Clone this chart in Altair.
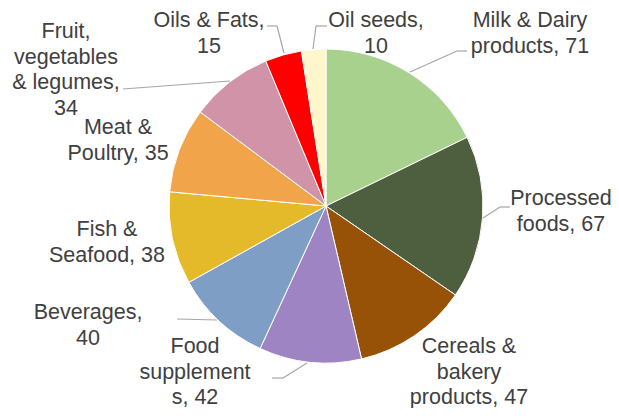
import altair as alt
import pandas as pd

# ---- data ----
categories = [
    "Milk & Dairy products", "Processed foods", "Cereals & bakery products",
    "Food supplements", "Beverages", "Fish & Seafood", "Meat & Poultry",
    "Fruit, vegetables & legumes", "Oils & Fats", "Oil seeds",
]
values = [71, 67, 47, 42, 40, 38, 35, 34, 15, 10]
label_names = [
    "Milk & Dairy\nproducts, ", "Processed\nfoods, ", "Cereals &\nbakery\nproducts, ",
    "Food\nsupplement\ns, ", "Beverages,\n", "Fish &\nSeafood, ", "Meat &\nPoultry, ",
    "Fruit,\nvegetables\n& legumes,\n", "Oils & Fats,\n", "Oil seeds,\n",
]

# ---- style / layout ----
colors = ["#A9D18E", "#4E5F3F", "#975208", "#9E84C2", "#7F9EC5",
          "#E5BA2A", "#F2A44A", "#D093A7", "#FF0000", "#FFF6CC"]
PAGE = 8
cx, cy, R = 326 - PAGE, 206 - PAGE, 157
# (x centre, y of first text line centre) in page pixels
label_pos = [(530, 21), (561, 199), (469, 347), (195, 347), (88, 313),
             (107, 230), (118, 128), (66, 32), (209, 21), (376, 21)]
leaders = [
    ((267, 26), (277, 26)), ((277, 26), (284, 53)),
    ((327, 26), (316, 26)), ((316, 26), (313, 49)),
    ((123, 89), (230, 81)),
    ((467, 51), (457, 51)), ((457, 51), (410, 72)),
    ((510, 207), (500, 207)), ((500, 207), (483, 218)),
    ((177, 319), (217, 320)),
    ((272, 378), (283, 378)), ((283, 378), (307, 363)),
]

pie_df = pd.DataFrame({
    "category": categories,
    "value": values,
    "idx": list(range(len(categories))),
})
lab_df = pd.DataFrame({
    "label": [n + str(v) for n, v in zip(label_names, values)],
    "lx": [p[0] - PAGE for p in label_pos],
    "ly": [p[1] - PAGE for p in label_pos],
})
lead_df = pd.DataFrame({
    "x": [a[0] - PAGE for a, b in leaders],
    "y": [a[1] - PAGE for a, b in leaders],
    "x2": [b[0] - PAGE for a, b in leaders],
    "y2": [b[1] - PAGE for a, b in leaders],
})

pie = alt.Chart(pie_df).mark_arc(outerRadius=R, stroke="white", strokeWidth=1).encode(
    theta=alt.Theta("value:Q", stack=True),
    color=alt.Color("category:N", scale=alt.Scale(domain=categories, range=colors), legend=None),
    order=alt.Order("idx:Q"),
    x=alt.value(cx),
    y=alt.value(cy),
)

lines = alt.Chart(lead_df).mark_rule(color="#A6A6A6", strokeWidth=1.2).encode(
    x=alt.X("x:Q", scale=None, axis=None),
    y=alt.Y("y:Q", scale=None, axis=None),
    x2="x2:Q",
    y2="y2:Q",
)

labels = alt.Chart(lab_df).mark_text(
    font="Liberation Sans", fontSize=21.5, lineHeight=25.5, color="#404040",
    lineBreak="\n", align="center", baseline="middle",
).encode(
    x=alt.X("lx:Q", scale=None, axis=None),
    y=alt.Y("ly:Q", scale=None, axis=None),
    text="label:N",
)

chart = alt.layer(pie, lines, labels).properties(
    width=603, height=400, padding=0,
    autosize=alt.AutoSizeParams(type="none"),
).configure_view(stroke=None).resolve_scale(x="independent", y="independent")

chart.save("out.html", embed_options={"renderer": "svg", "actions": False})
